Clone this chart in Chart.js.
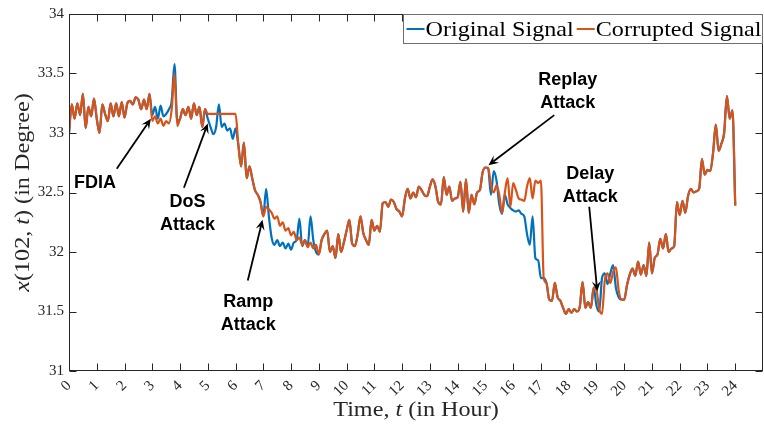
<!DOCTYPE html>
<html>
<head>
<meta charset="utf-8">
<script src="https://cdn.jsdelivr.net/npm/chart.js@4/dist/chart.umd.min.js"></script>
<style>
html,body{margin:0;padding:0;background:#fff;}
canvas{display:block;}
</style>
</head>
<body>
<canvas id="c" width="764" height="427"></canvas>
<script>
// ---- data ----
const hours = [
 0.0,0.1,0.2,0.3,0.4,0.5,0.6,0.7,0.8,0.9,
 1.0,1.1,1.2,1.3,1.4,1.5,1.6,1.7,1.8,1.9,
 2.0,2.1,2.2,2.3,2.4,2.5,2.6,2.7,2.8,2.9,
 3.0,3.1,3.2,3.3,3.4,3.5,3.6,3.7,3.8,3.9,
 4.0,4.1,4.2,4.3,4.4,4.5,4.6,4.7,4.8,4.9,
 5.0,5.1,5.2,5.3,5.4,5.5,5.6,5.7,5.8,5.9,
 6.0,6.1,6.2,6.3,6.4,6.5,6.6,6.7,6.8,6.9,
 7.0,7.1,7.2,7.3,7.4,7.5,7.6,7.7,7.8,7.9,
 8.0,8.1,8.2,8.3,8.4,8.5,8.6,8.7,8.8,8.9,
 9.0,9.1,9.2,9.3,9.4,9.5,9.6,9.7,9.8,9.9,
 10.0,10.1,10.2,10.3,10.4,10.5,10.6,10.7,10.8,10.9,
 11.0,11.1,11.2,11.3,11.4,11.5,11.6,11.7,11.8,11.9,
 12.0,12.1,12.2,12.3,12.4,12.5,12.6,12.7,12.8,12.9,
 13.0,13.1,13.2,13.3,13.4,13.5,13.6,13.7,13.8,13.9,
 14.0,14.1,14.2,14.3,14.4,14.5,14.6,14.7,14.8,14.9,
 15.0,15.1,15.2,15.3,15.4,15.5,15.6,15.7,15.8,15.9,
 16.0,16.1,16.2,16.3,16.4,16.5,16.6,16.7,16.8,16.9,
 17.0,17.1,17.2,17.3,17.4,17.5,17.6,17.7,17.8,17.9,
 18.0,18.1,18.2,18.3,18.4,18.5,18.6,18.7,18.8,18.9,
 19.0,19.1,19.2,19.3,19.4,19.5,19.6,19.7,19.8,19.9,
 20.0,20.1,20.2,20.3,20.4,20.5,20.6,20.7,20.8,20.9,
 21.0,21.1,21.2,21.3,21.4,21.5,21.6,21.7,21.8,21.9,
 22.0,22.1,22.2,22.3,22.4,22.5,22.6,22.7,22.8,22.9,
 23.0,23.1,23.2,23.3,23.4,23.5,23.6,23.7,23.8,23.9,
 24.0
];

const originalSignal = [
 33.00,33.24,33.12,33.25,33.15,33.33,33.04,33.22,33.14,33.29,
 33.12,33.00,33.24,33.16,33.10,33.25,33.14,33.25,33.14,33.26,
 33.13,33.25,33.27,33.24,33.30,33.28,33.20,33.28,33.20,33.33,
 33.15,33.22,33.12,33.23,33.14,33.16,33.20,33.27,33.58,33.10,
 33.12,33.20,33.15,33.22,33.12,33.25,33.15,33.22,33.05,33.20,
 33.12,33.05,32.99,33.05,33.24,33.05,33.08,33.02,33.04,32.95,
 33.04,32.90,32.72,32.92,32.62,32.72,32.62,32.52,32.48,32.42,
 32.30,32.53,32.30,32.12,32.06,32.10,32.05,32.08,32.03,32.07,
 32.02,32.08,32.10,32.28,32.05,32.10,32.05,32.30,32.10,32.00,
 31.98,32.10,32.15,32.18,32.00,32.05,31.95,32.15,32.00,32.08,
 32.18,32.27,32.07,32.05,32.15,32.30,32.16,32.10,32.06,32.27,
 32.18,32.22,32.17,32.41,32.42,32.38,32.44,32.42,32.36,32.34,
 32.30,32.45,32.53,32.45,32.50,32.46,32.55,32.52,32.48,32.47,
 32.55,32.61,32.55,32.42,32.40,32.63,32.48,32.55,32.43,32.45,
 32.46,32.59,32.34,32.61,32.33,32.48,32.40,32.50,32.52,32.67,
 32.71,32.70,32.48,32.68,32.60,32.40,32.32,32.48,32.40,32.37,
 32.35,32.34,32.35,32.32,32.30,32.15,32.06,32.30,31.95,31.93,
 31.78,31.78,31.74,31.60,31.59,31.74,31.62,31.59,31.53,31.48,
 31.52,31.49,31.52,31.50,31.54,31.75,31.53,31.58,31.53,31.70,
 31.55,31.50,31.78,31.82,31.73,31.82,31.89,31.70,31.62,31.60,
 31.60,31.72,31.81,31.86,31.80,31.92,31.81,31.89,31.80,32.08,
 31.82,31.95,31.98,32.11,32.03,32.15,32.00,32.03,32.05,32.42,
 32.31,32.43,32.33,32.47,32.53,32.50,32.51,32.53,32.78,32.65,
 32.69,32.68,32.83,33.07,32.85,32.91,33.00,33.31,33.12,33.19,
 32.39
];

const corruptedSignal = [
 33.00,33.24,33.12,33.25,33.15,33.33,33.04,33.22,33.14,33.29,
 33.12,33.00,33.24,33.16,33.10,33.25,33.14,33.25,33.14,33.26,
 33.13,33.25,33.27,33.24,33.30,33.28,33.20,33.28,33.20,33.33,
 33.10,33.14,33.08,33.12,33.06,33.10,33.08,33.20,33.50,33.06,
 33.12,33.20,33.15,33.22,33.12,33.25,33.15,33.22,33.05,33.20,
 33.16,33.16,33.16,33.16,33.16,33.16,33.16,33.16,33.16,33.16,
 33.16,32.90,32.72,32.92,32.62,32.72,32.62,32.52,32.48,32.42,
 32.30,32.38,32.36,32.33,32.28,32.30,32.22,32.25,32.18,32.20,
 32.14,32.17,32.10,32.12,32.06,32.10,32.04,32.08,32.03,32.06,
 31.98,32.10,32.15,32.18,32.00,32.05,31.95,32.15,32.00,32.08,
 32.18,32.27,32.07,32.05,32.15,32.30,32.16,32.10,32.06,32.27,
 32.18,32.22,32.17,32.41,32.42,32.38,32.44,32.42,32.36,32.34,
 32.30,32.45,32.53,32.45,32.50,32.46,32.55,32.52,32.48,32.47,
 32.55,32.61,32.55,32.42,32.40,32.63,32.48,32.55,32.43,32.45,
 32.46,32.59,32.34,32.61,32.33,32.48,32.40,32.50,32.52,32.67,
 32.71,32.71,32.56,32.50,32.56,32.48,32.33,32.50,32.62,32.38,
 32.58,32.52,32.45,32.44,32.43,32.55,32.62,32.45,32.60,32.58,
 32.60,31.78,31.74,31.60,31.59,31.74,31.62,31.59,31.53,31.48,
 31.52,31.49,31.52,31.50,31.54,31.75,31.53,31.58,31.53,31.70,
 31.68,31.52,31.48,31.76,31.82,31.74,31.83,31.87,31.68,31.60,
 31.60,31.72,31.81,31.86,31.80,31.92,31.81,31.89,31.80,32.08,
 31.82,31.95,31.98,32.11,32.03,32.15,32.00,32.03,32.05,32.42,
 32.31,32.43,32.33,32.47,32.53,32.50,32.51,32.53,32.78,32.65,
 32.69,32.68,32.83,33.07,32.85,32.91,33.00,33.31,33.12,33.19,
 32.39
];

const xTickValues = [0,1,2,3,4,5,6,7,8,9,10,11,12,13,14,15,16,17,18,19,20,21,22,23,24];
const yTickValues = [31,31.5,32,32.5,33,33.5,34];

const seriesNames = ['Original Signal','Corrupted Signal'];
const xTitle = [{t:'Time, ',i:false},{t:'t',i:true},{t:' (in Hour)',i:false}];
const yTitle = [{t:'x',i:true},{t:'(102, ',i:false},{t:'t',i:true},{t:') (in Degree)',i:false}];

// annotations: text lines, text centre (data), arrow tail & head (data)
const annotations = [
  {lines:['FDIA'], tx:0.94, ty:32.58, ax:1.72, ay:32.70, hx:2.95, hy:33.12},
  {lines:['DoS','Attack'], tx:4.27, ty:32.32, ax:4.14, ay:32.54, hx:5.00, hy:33.08},
  {lines:['Ramp','Attack'], tx:6.46, ty:31.48, ax:6.44, ay:31.76, hx:6.97, hy:32.27},
  {lines:['Replay','Attack'], tx:17.97, ty:33.35, ax:17.48, ay:33.15, hx:15.11, hy:32.73},
  {lines:['Delay','Attack'], tx:18.78, ty:32.56, ax:18.74, ay:32.38, hx:19.03, hy:31.67}
];

const BLUE = '#0072BD', ORANGE = '#D95319', AXIS = '#262626';
const SERIF = '"Liberation Serif", "DejaVu Serif", serif';
const STRETCH = 1.15; // wider glyphs, like the LaTeX font of the original

function measureMixed(ctx, segs, size){
  let w = 0;
  segs.forEach(s=>{ ctx.font = (s.i?'italic ':'') + size + 'px ' + SERIF; s.w = ctx.measureText(s.t).width; w += s.w; });
  return w;
}
function drawMixed(ctx, segs, size, cx, cy){
  const w = measureMixed(ctx, segs, size);
  ctx.save();
  ctx.translate(cx, cy);
  ctx.scale(STRETCH, 1);
  let x = -w/2;
  ctx.textAlign = 'left'; ctx.textBaseline = 'middle';
  segs.forEach(s=>{ ctx.font = (s.i?'italic ':'') + size + 'px ' + SERIF; ctx.fillText(s.t, x, 0); x += s.w; });
  ctx.restore();
}

const framePlugin = {
  id:'frame',
  afterDraw(chart){
    const ctx = chart.ctx, a = chart.chartArea;
    const xs = chart.scales.x, ys = chart.scales.y;
    ctx.save();
    // box
    ctx.strokeStyle = AXIS; ctx.lineWidth = 1;
    const L = Math.round(a.left)+0.5, R = Math.round(a.right)-0.5, T = Math.round(a.top)+0.5, B = Math.round(a.bottom)-0.5;
    ctx.strokeRect(L, T, R-L, B-T);
    // inward ticks
    ctx.beginPath();
    xTickValues.forEach(v=>{
      const px = Math.round(xs.getPixelForValue(v))+0.5;
      ctx.moveTo(px, B); ctx.lineTo(px, B-7);
      ctx.moveTo(px, T); ctx.lineTo(px, T+7);
    });
    yTickValues.forEach(v=>{
      const py = Math.round(ys.getPixelForValue(v))+0.5;
      ctx.moveTo(L, py); ctx.lineTo(L+7, py);
      ctx.moveTo(R, py); ctx.lineTo(R-7, py);
    });
    ctx.stroke();

    // axis titles
    ctx.fillStyle = AXIS;
    drawMixed(ctx, xTitle, 21, (a.left+a.right)/2, 410);
    ctx.save();
    ctx.translate(23, (a.top+a.bottom)/2);
    ctx.rotate(-Math.PI/2);
    drawMixed(ctx, yTitle, 21, 0, 0);
    ctx.restore();

    // annotations
    ctx.fillStyle = '#000'; ctx.strokeStyle = '#000';
    annotations.forEach(n=>{
      ctx.font = 'bold 18px "Liberation Sans", Arial, sans-serif';
      ctx.textAlign = 'center'; ctx.textBaseline = 'middle';
      const cx = xs.getPixelForValue(n.tx), cy = ys.getPixelForValue(n.ty);
      const lh = 23, n0 = (n.lines.length-1)/2;
      n.lines.forEach((s,k)=>ctx.fillText(s, cx, cy + (k-n0)*lh));
      const x0 = xs.getPixelForValue(n.ax), y0 = ys.getPixelForValue(n.ay);
      const x1 = xs.getPixelForValue(n.hx), y1 = ys.getPixelForValue(n.hy);
      const ang = Math.atan2(y1-y0, x1-x0);
      const hl = 10, hw = 4.5;
      const bx = x1 - hl*Math.cos(ang), by = y1 - hl*Math.sin(ang);
      ctx.lineWidth = 1.8;
      ctx.beginPath(); ctx.moveTo(x0,y0); ctx.lineTo(x1 - 6*Math.cos(ang), y1 - 6*Math.sin(ang)); ctx.stroke();
      ctx.beginPath();
      ctx.moveTo(x1,y1);
      ctx.lineTo(bx + hw*Math.sin(ang), by - hw*Math.cos(ang));
      ctx.lineTo(x1 - 6*Math.cos(ang), y1 - 6*Math.sin(ang));
      ctx.lineTo(bx - hw*Math.sin(ang), by + hw*Math.cos(ang));
      ctx.closePath(); ctx.fill();
    });

    // legend
    const fs = 21;
    ctx.font = fs + 'px ' + SERIF;
    const w1 = ctx.measureText(seriesNames[0]).width*STRETCH, w2 = ctx.measureText(seriesNames[1]).width*STRETCH;
    const lineLen = 18;
    const lw = 3 + lineLen + 1 + w1 + 3 + lineLen + 1 + w2 + 2;
    const lx = Math.round(R - lw) + 0.5, ly = T, lhgt = 29;
    ctx.fillStyle = '#fff';
    ctx.fillRect(lx, ly, R - lx, lhgt);
    ctx.strokeStyle = '#6e6e6e'; ctx.lineWidth = 1;
    ctx.strokeRect(lx, ly, R - lx, lhgt);
    const my = ly + lhgt/2;
    let x = lx + 3;
    ctx.lineWidth = 2;
    ctx.strokeStyle = BLUE; ctx.beginPath(); ctx.moveTo(x, my); ctx.lineTo(x+lineLen, my); ctx.stroke();
    x += lineLen + 1;
    ctx.fillStyle = '#000'; ctx.textAlign='left'; ctx.textBaseline='middle';
    const drawStretched = (s, px) => { ctx.save(); ctx.translate(px, my+1); ctx.scale(STRETCH,1); ctx.fillText(s, 0, 0); ctx.restore(); };
    drawStretched(seriesNames[0], x); x += w1 + 3;
    ctx.strokeStyle = ORANGE; ctx.beginPath(); ctx.moveTo(x, my); ctx.lineTo(x+lineLen, my); ctx.stroke();
    x += lineLen + 1;
    drawStretched(seriesNames[1], x);
    ctx.restore();
  }
};

const toPts = arr => hours.map((h,i)=>({x:h, y:arr[i]}));

new Chart(document.getElementById('c').getContext('2d'), {
  type:'line',
  data:{
    datasets:[
      {label:seriesNames[1], data:toPts(corruptedSignal), borderColor:ORANGE, borderWidth:2.2, pointRadius:0, fill:false, cubicInterpolationMode:'monotone'},
      {label:seriesNames[0], data:toPts(originalSignal), borderColor:BLUE, borderWidth:2.2, pointRadius:0, fill:false, cubicInterpolationMode:'monotone'}
    ]
  },
  options:{
    responsive:false, animation:false, devicePixelRatio:1,
    layout:{padding:{top:9, right:1, left:0, bottom:0}},
    plugins:{legend:{display:false}, tooltip:{enabled:false}},
    scales:{
      x:{
        type:'linear', min:0, max:25,
        afterBuildTicks:s=>{ s.ticks = xTickValues.map(v=>({value:v})); },
        afterFit:s=>{ s.height = 56; },
        grid:{display:false, drawTicks:false}, border:{display:false},
        ticks:{autoSkip:false, minRotation:45, maxRotation:45, padding:6, color:AXIS,
               font:{family:SERIF, size:15}, callback:v=>String(v)}
      },
      y:{
        type:'linear', min:31, max:34,
        afterBuildTicks:s=>{ s.ticks = yTickValues.map(v=>({value:v})); },
        afterFit:s=>{ s.width = 69; },
        grid:{display:false, drawTicks:false}, border:{display:false},
        ticks:{padding:5, color:AXIS, font:{family:SERIF, size:15}, callback:v=>String(v)}
      }
    }
  },
  plugins:[framePlugin]
});
</script>
</body>
</html>
